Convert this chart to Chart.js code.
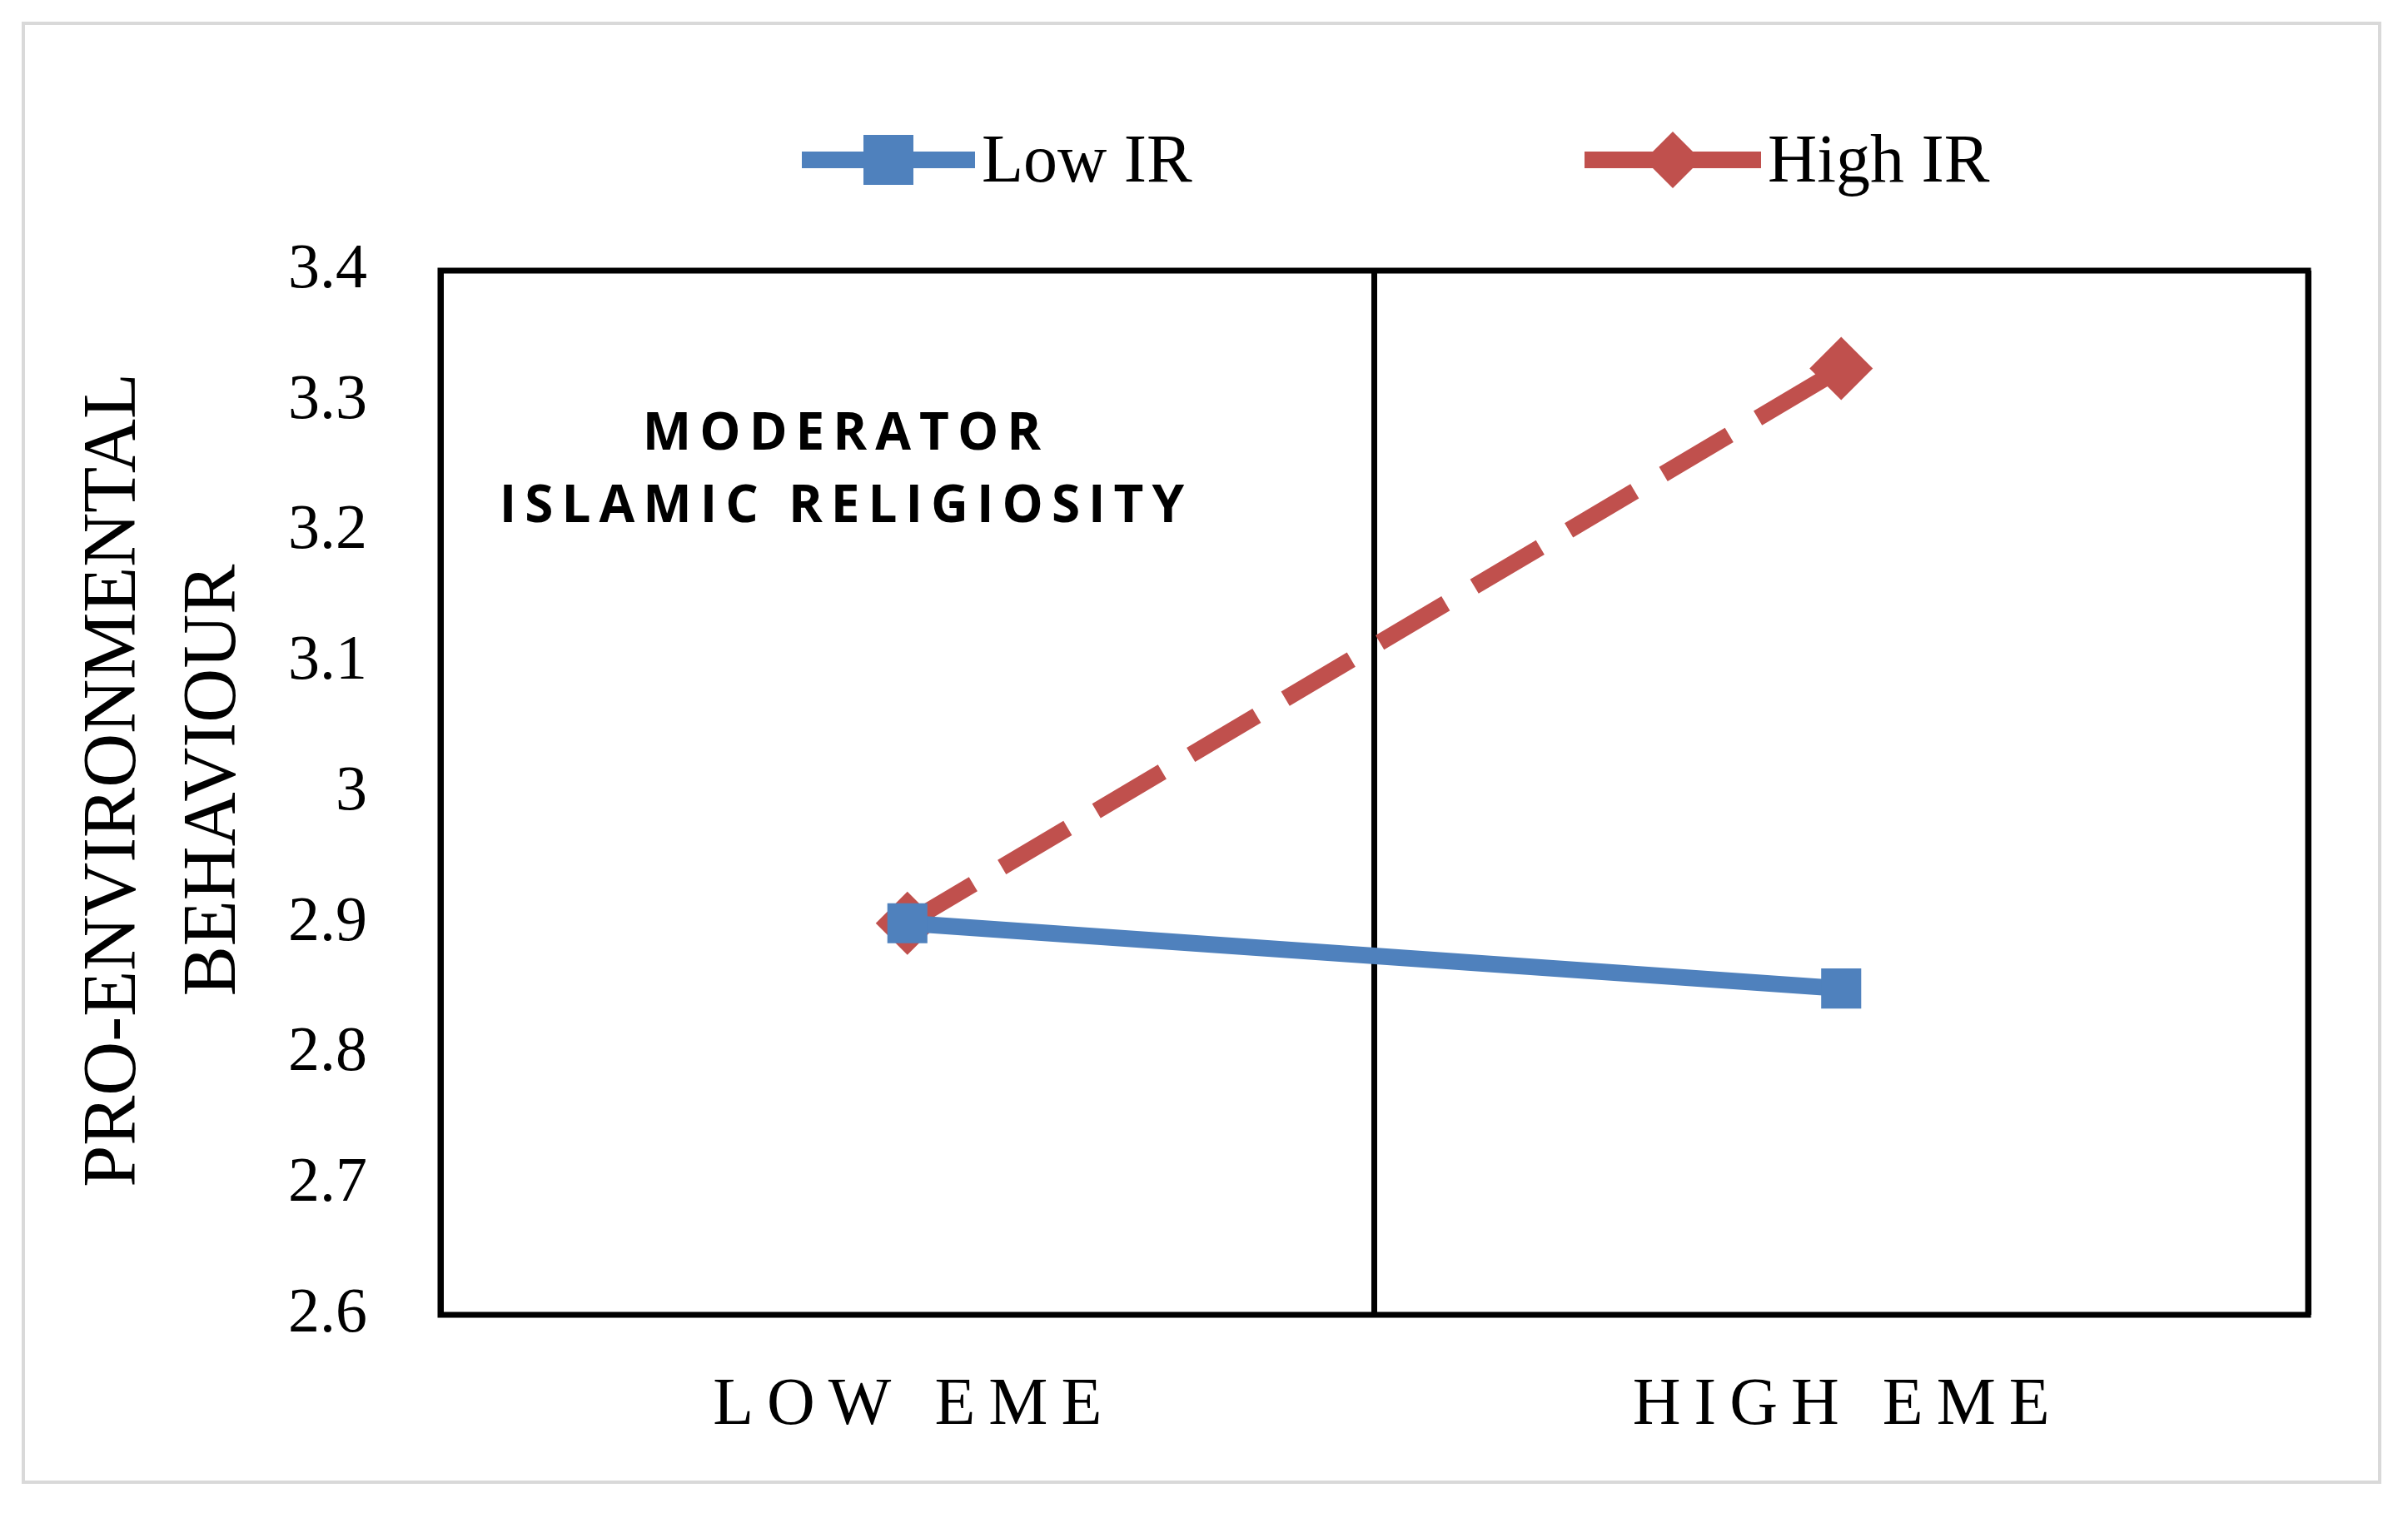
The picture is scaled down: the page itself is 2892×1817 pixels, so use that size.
<!DOCTYPE html>
<html>
<head>
<meta charset="utf-8">
<script src="https://cdn.jsdelivr.net/npm/chart.js@4"></script>
<style>
  html, body { margin: 0; padding: 0; background: #fff; }
  #wrap { position: relative; width: 2892px; height: 1817px; }
  #frame { position: absolute; left: 26px; top: 26px; width: 2834px; height: 1756px; border: 4px solid #d9d9d9; box-sizing: border-box; pointer-events: none; }
</style>
</head>
<body>
<div id="wrap">
  <canvas id="chart" width="2892" height="1817"></canvas>
  <div id="frame"></div>
</div>
<script>
// Data
const categories = ['LOW EME', 'HIGH EME'];
const lowIR = [2.9, 2.85];
const highIR = [2.9, 3.325];
const yTicks = [2.6, 2.7, 2.8, 2.9, 3, 3.1, 3.2, 3.3, 3.4];

const blue = '#4F81BD';
const red = '#C0504D';
const serif = '"Liberation Serif", "DejaVu Serif", serif';

// spread letters out a bit, like the original axis labels
function spaced(s) {
  return s.split('').join('\u2009');
}

// draws the plot frame, the y title, the note and the legend
const extras = {
  id: 'extras',
  afterDraw(chart) {
    const c = chart.ctx;
    const a = chart.chartArea;
    c.save();
    c.strokeStyle = '#000';
    c.lineWidth = 7;
    c.strokeRect(a.left, a.top, a.right - a.left, a.bottom - a.top);

    // y axis title
    c.fillStyle = '#000';
    c.font = '90px ' + serif;
    c.textAlign = 'center';
    c.textBaseline = 'middle';
    c.save();
    c.translate(138, (a.top + a.bottom) / 2 - 15);
    c.rotate(-Math.PI / 2);
    c.fillText('PRO-ENVIRONMENTAL', 0, 0);
    c.fillText('BEHAVIOUR', 0, 120);
    c.restore();

    // moderator note
    c.font = 'bold 62px "Open Sans", sans-serif';
    c.letterSpacing = '10px';
    c.fillText('MODERATOR', 1016, 522);
    c.fillText('ISLAMIC RELIGIOSITY', 1016, 609);
    c.letterSpacing = '0px';

    // legend
    const items = [
      { label: 'Low IR', color: blue, x0: 963, x1: 1171, shape: 'rect' },
      { label: 'High IR', color: red, x0: 1903, x1: 2115, shape: 'rectRot' }
    ];
    const ly = 192;
    c.font = '82px ' + serif;
    c.textAlign = 'left';
    items.forEach(it => {
      c.strokeStyle = it.color;
      c.fillStyle = it.color;
      c.lineWidth = 20;
      c.beginPath();
      c.moveTo(it.x0, ly);
      c.lineTo(it.x1, ly);
      c.stroke();
      const m = (it.x0 + it.x1) / 2;
      c.beginPath();
      if (it.shape === 'rect') {
        c.rect(m - 30, ly - 30, 60, 60);
      } else {
        c.moveTo(m, ly - 34); c.lineTo(m + 34, ly); c.lineTo(m, ly + 34); c.lineTo(m - 34, ly);
        c.closePath();
      }
      c.fill();
      c.fillStyle = '#000';
      c.fillText(it.label, it.x1 + 8, ly + 4);
    });
    c.restore();
  }
};

const ctx = document.getElementById('chart').getContext('2d');
const chart = new Chart(ctx, {
  type: 'line',
  data: {
    labels: categories,
    datasets: [
      {
        label: 'Low IR',
        data: lowIR,
        borderColor: blue,
        backgroundColor: blue,
        borderWidth: 20,
        pointStyle: 'rect',
        pointRadius: 34,
        pointBorderWidth: 0
      },
      {
        label: 'High IR',
        data: highIR,
        borderColor: red,
        backgroundColor: red,
        borderWidth: 20,
        borderDash: [92, 40],
        pointStyle: 'rectRot',
        pointRadius: 38,
        pointBorderWidth: 0
      }
    ]
  },
  options: {
    responsive: false,
    animation: false,
    devicePixelRatio: 1,
    layout: { padding: { top: 325, right: 120, left: 0, bottom: 0 } },
    plugins: { legend: { display: false }, tooltip: { enabled: false } },
    scales: {
      x: {
        offset: true,
        grid: { offset: true, color: '#000', lineWidth: 7, drawTicks: false },
        border: { display: false },
        ticks: {
          color: '#000',
          font: { family: serif, size: 80 },
          padding: 62,
          callback(v, i) { return spaced(categories[i]); }
        },
        afterFit(s) { s.height = 238; }
      },
      y: {
        min: 2.6,
        max: 3.4,
        afterBuildTicks(s) { s.ticks = yTicks.map(v => ({ value: v })); },
        grid: { display: false },
        border: { display: false },
        ticks: {
          color: '#000',
          font: { family: serif, size: 76 },
          padding: 80,
          callback(v) { return String(Math.round(v * 10) / 10); }
        },
        afterFit(s) { s.width = 529; }
      }
    }
  },
  plugins: [extras]
});
</script>
</body>
</html>
